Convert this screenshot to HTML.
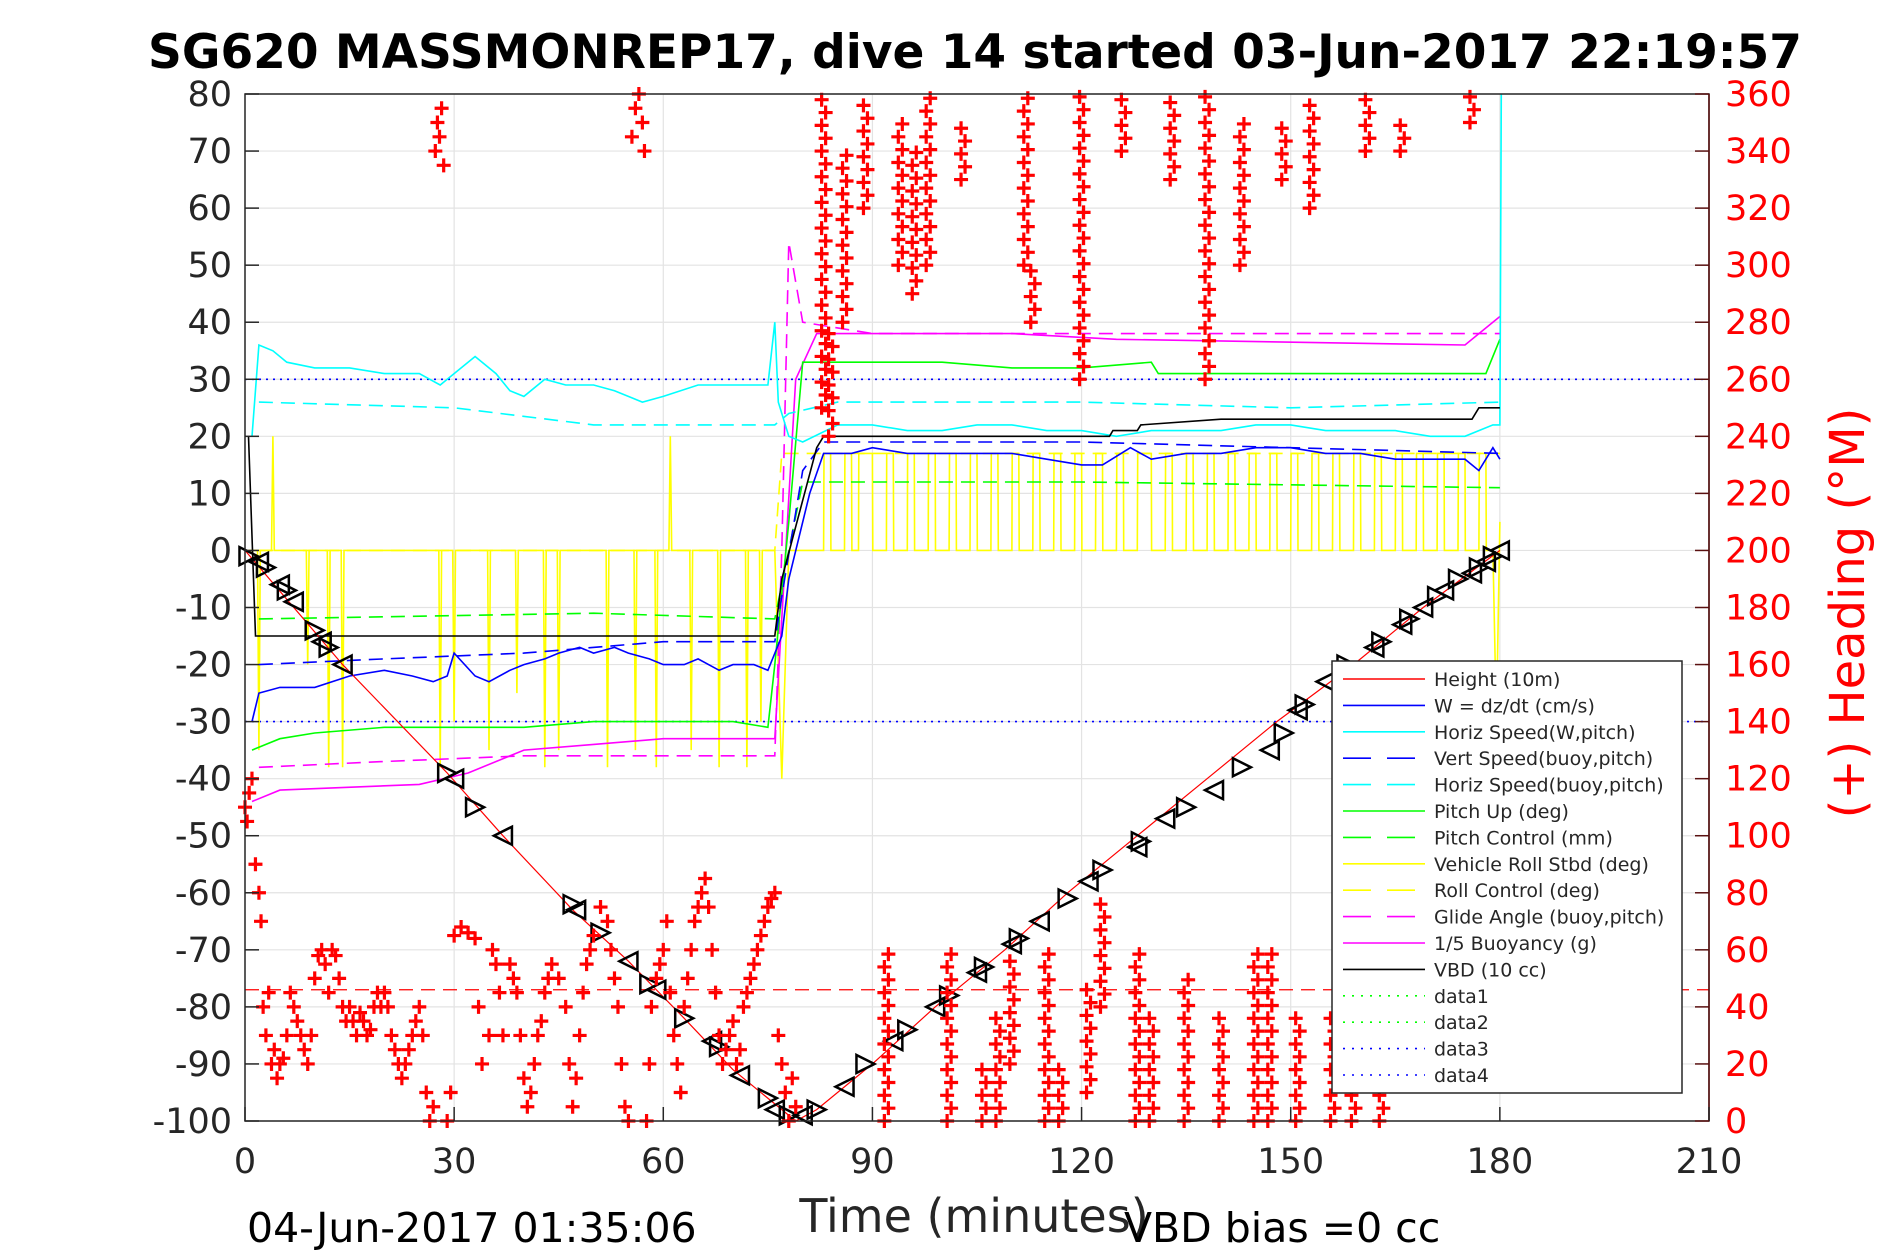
<!DOCTYPE html>
<html><head><meta charset="utf-8"><style>
html,body{margin:0;padding:0;background:#fff;}
svg{display:block;font-family:"DejaVu Sans","Liberation Sans",sans-serif;}
</style></head><body>
<svg id="chart" width="1890" height="1260" viewBox="0 0 1890 1260">
<rect x="0" y="0" width="1890" height="1260" fill="#fff"/>
<g id="grid"></g>
<g id="series"></g>
<g id="axes"></g>
<g id="legend"></g>
</svg>
<script>
// ---- data ----
const xTicks=[0,30,60,90,120,150,180,210];
const yTicks=[80,70,60,50,40,30,20,10,0,-10,-20,-30,-40,-50,-60,-70,-80,-90,-100];
const hTicks=[360,340,320,300,280,260,240,220,200,180,160,140,120,100,80,60,40,20,0];

const heightT=[0,14,29,37,47,55,63,70,76,79,82,90,99,109,118,128,138,148,159,169,180];
const heightV=[0,-20,-39,-50,-63,-72,-82,-91,-97,-100,-98,-90,-80,-70,-60,-50,-40,-30,-20,-10,0];

const markT=[0.5,2,3,5,6,7,10,11,12,14,29,30,33,37,47,47.5,51,55,58,59,63,67,68,71,75,76,78,80,82,86,89,93,95,99,101,105,106,110,111,114,118,121,123,128,128.5,132,135,139,143,147,149,151,152,155,158,162,163,166,167,169,171,172,174,176,177,178,179,180];
const markV=[-1,-2,-3,-6,-7,-9,-14,-16,-17,-20,-39,-40,-45,-50,-62,-63,-67,-72,-76,-77,-82,-86,-87,-92,-96,-98,-99,-99,-98,-94,-90,-86,-84,-80,-78,-74,-73,-69,-68,-65,-61,-58,-56,-52,-51,-47,-45,-42,-38,-35,-32,-28,-27,-23,-20,-17,-16,-13,-12,-10,-8,-7,-5,-4,-3,-2,-1,0];

const vbdT=[0.5,1.5,76,77,82,83,121,124,124.5,128,128.5,140,176,177,180];
const vbdV=[20,-15,-15,-5,18,20,20,20,21,21,22,23,23,25,25];

const wT=[1,2,5,10,15,20,24,27,29,30,33,35,38,40,43,45,48,50,53,55,58,60,63,65,68,70,73,75,77,78,81,83,87,90,95,100,105,110,115,120,123,127,130,135,140,145,150,155,160,165,170,175,177,179,180];
const wV=[-30,-25,-24,-24,-22,-21,-22,-23,-22,-18,-22,-23,-21,-20,-19,-18,-17,-18,-17,-18,-19,-20,-20,-19,-21,-20,-20,-21,-15,-5,10,17,17,18,17,17,17,17,16,15,15,18,16,17,17,18,18,17,17,16,16,16,14,18,16];

const vsT=[2,20,40,60,76,77,80,83,100,120,150,180];
const vsV=[-20,-19,-18,-16,-16,-8,14,19,19,19,18,17];

const hsT=[1,2,4,6,10,15,20,25,28,30,33,36,38,40,43,46,50,53,57,60,65,70,75,76,76.5,78,80,85,90,95,100,105,110,115,120,125,130,135,140,145,150,155,160,165,170,175,179,180,180.2];
const hsV=[20,36,35,33,32,32,31,31,29,31,34,31,28,27,30,29,29,28,26,27,29,29,29,40,26,20,19,22,22,21,21,22,22,21,21,20,21,21,21,22,22,21,21,21,20,20,22,22,80];

const hsbT=[2,30,50,76,78,85,120,150,180];
const hsbV=[26,25,22,22,24,26,26,25,26];

const pitchT=[1,3,5,10,20,30,40,50,60,70,75,76,78,80,85,100,110,120,130,131,140,150,160,170,178,180];
const pitchV=[-35,-34,-33,-32,-31,-31,-31,-30,-30,-30,-31,-20,5,33,33,33,32,32,33,31,31,31,31,31,31,37];

const pcT=[2,50,76,78,80,120,180];
const pcV=[-12,-11,-12,0,12,12,11];

const rollSpikeT=[2,4,9,12,14,28,30,35,39,43,45,52,56,59,61,64,68,72,74];
const rollSpikeV=[-35,20,-20,-38,-38,-38,-30,-35,-25,-38,-35,-38,-35,-38,20,-35,-38,-38,-30];
const rollHighS=[83,86,88,92,95,98,101,104,107,110,113,116,119,122,125,128,132,135,138,141,144,147,150,153,156,159,162,165,168,171,174,177];
const rollHighE=[84,87,90,93,96,99,102,105,108,111,114,117,120,123,126,130,133,136,139,142,145,148,151,154,157,160,163,166,169,172,175,178];

const glideT=[2,20,40,76,77,78,80,90,120,180];
const glideV=[-38,-37,-36,-36,0,54,40,38,38,38];

const buoyT=[1,5,25,32,40,50,60,76,79,82,110,125,175,180];
const buoyV=[-44,-42,-41,-39,-35,-34,-33,-33,30,38,38,37,36,41];

const headT=[0,0.3,0.6,1,1.5,2,2.3,2.6,3,3.4,3.8,4.2,4.6,5,5.5,6,6.5,7,7.5,8,8.5,9,9.5,10,10.5,11,11.5,12,12.5,13,13.5,14,14.5,15,15.5,16,16.5,17,17.5,18,18.5,19,19.5,20,20.5,21,21.5,22,22.5,23,23.5,24,24.5,25,25.5,26,26.5,27,27.3,27.6,27.9,28.2,28.5,29,29.5,30,31,32,33,33.5,34,35,35.5,36,36.5,37,38,38.5,39,39.5,40,40.5,41,41.5,42,42.5,43,43.5,44,45,46,46.5,47,47.5,48,48.5,49,49.5,50,51,52,52.5,53,53.5,54,54.5,55,55.5,56,56.5,57,57.3,57.6,58,58.3,59,59.5,60,60.5,61,61.5,62,62.5,63,63.5,64,64.5,65,65.5,66,66.5,67,67.5,68,68.5,69,69.5,70,70.5,71,71.5,72,72.5,73,73.5,74,74.5,75,75.5,76,76.5,77,77.5,78,78.5,79,79.5,80,80.5,81,81.5];
const headV=[110,105,115,120,90,80,70,40,30,45,20,25,15,20,22,30,45,40,35,30,25,20,30,50,58,60,55,45,60,58,50,40,35,40,35,30,38,35,30,32,40,45,40,45,40,30,25,20,15,20,25,30,35,40,30,10,0,5,340,350,345,355,335,0,10,65,68,66,64,40,20,30,60,55,45,30,55,50,45,30,15,5,10,20,30,35,45,50,55,50,40,20,5,15,30,45,55,60,65,75,70,60,50,40,20,5,0,345,355,360,350,340,0,20,40,50,55,60,70,45,30,20,10,40,50,60,70,75,80,85,75,60,45,30,20,25,30,35,20,25,40,45,50,55,60,65,70,75,78,80,30,20,10,0,15,5];

const colT=[83,84,86,89,92,94,96,98,101,103,106,108,110,112,113,115,117,120,121,123,126,128,130,133,135,138,140,143,145,147,149,151,153,156,159,161,163,166,176];
const colTop=[360,280,340,360,60,350,340,360,60,350,20,40,60,360,300,60,20,360,50,80,360,60,40,360,50,360,40,350,60,60,350,40,360,40,20,360,20,350,360];
const colBot=[250,240,280,320,0,300,290,300,0,330,0,0,20,300,280,0,0,260,10,40,340,0,0,330,0,260,0,300,0,0,330,0,320,0,0,340,0,340,350];

// ---- scales ----
const L=245,R=1709,T=94,B=1121;
const xs=t=>L+t*(R-L)/210;
const ys=v=>T+(80-v)*(B-T)/180;
const hs=h=>B-h*(B-T)/360;
const NS="http://www.w3.org/2000/svg";
function mk(tag,attrs,parent){const e=document.createElementNS(NS,tag);for(const k in attrs)e.setAttribute(k,attrs[k]);parent.appendChild(e);return e;}
const grid=document.getElementById('grid'),ser=document.getElementById('series'),axes=document.getElementById('axes'),leg=document.getElementById('legend');

xTicks.forEach(t=>{const l=mk('line',{x1:xs(t),x2:xs(t),y1:T,y2:B,stroke:'#e3e3e3','stroke-width':1.2},grid);

});
yTicks.forEach(v=>{const l=mk('line',{x1:L,x2:R,y1:ys(v),y2:ys(v),stroke:'#e3e3e3','stroke-width':1.2},grid);

});

function line(T_,V_,color,dash,name,w){
  const pts=T_.map((t,i)=>xs(t).toFixed(1)+','+ys(V_[i]).toFixed(1)).join(' ');
  const p=mk('polyline',{points:pts,fill:'none',stroke:color,'stroke-width':w||1.6},ser);
  if(dash)p.setAttribute('stroke-dasharray',dash);
  
  
}
const r1=mk('line',{x1:xs(0),x2:xs(210),y1:ys(30),y2:ys(30),stroke:'#0000ff','stroke-width':1.6,'stroke-dasharray':'2,5'},ser);


const r2=mk('line',{x1:xs(0),x2:xs(210),y1:ys(-30),y2:ys(-30),stroke:'#0000ff','stroke-width':1.6,'stroke-dasharray':'2,5'},ser);


const r3=mk('line',{x1:xs(0),x2:xs(210),y1:ys(-77),y2:ys(-77),stroke:'#ff0000','stroke-width':1.2,'stroke-dasharray':'14,8'},ser);



const rT=[0.5],rV=[0];
rollSpikeT.forEach((t,i)=>{rT.push(t-0.2,t,t+0.2);rV.push(0,rollSpikeV[i],0);});
rT.push(76,77,78,82);rV.push(0,-40,0,0);
rollHighS.forEach((s,i)=>{rT.push(s,s+0.05,rollHighE[i],rollHighE[i]+0.05);rV.push(0,17,17,0);});
rT.push(179,179.5,180);rV.push(0,-30,5);

line(rT,rV,'#ffff00',null,'vehicle-roll-line',1.6);
line([2,76,77,82,180],[0,0,17,17,17],'#ffff00','14,8','roll-control-line',1.6);
line(glideT,glideV,'#ff00ff','14,8','glide-angle-line');
line(buoyT,buoyV,'#ff00ff',null,'buoyancy-line');
line(pcT,pcV,'#00ff00','14,8','pitch-control-line');
line(pitchT,pitchV,'#00ff00',null,'pitch-up-line');
line(hsbT,hsbV,'#00ffff','14,8','horiz-speed-buoy-line');
line(hsT,hsV,'#00ffff',null,'horiz-speed-line');
line(vsT,vsV,'#0000ff','14,8','vert-speed-line');
line(wT,wV,'#0000ff',null,'w-line');
line(vbdT,vbdV,'#000000',null,'vbd-line');
line(heightT,heightV,'#ff0000',null,'height-line',1.2);

markT.forEach((t,i)=>{const x=xs(t),y=ys(markV[i]),s=9;
 const even=i%2===0;
 const pts=even?`${x-s},${y-s} ${x+s},${y} ${x-s},${y+s}`:`${x+s},${y-s} ${x-s},${y} ${x+s},${y+s}`;
 const p=mk('polygon',{points:pts,fill:'none',stroke:'#000','stroke-width':2.5},ser);
 
 });

function cross(x,y){const p=mk('path',{d:`M${x-7},${y}h14M${x},${y-7}v14`,stroke:'#ff0000','stroke-width':3.2},ser);
 
 }
headT.forEach((t,i)=>cross(xs(t),hs(headV[i])));
colT.forEach((t,i)=>{const a=Math.min(colTop[i],colBot[i]),b=Math.max(colTop[i],colBot[i]);
 let k=0;for(let h=a;h<=b;h+=4.5,k++)cross(xs(t)+(k%2?2:-2),hs(h));});

const box=mk('rect',{x:L,y:T,width:R-L,height:B-T,fill:'none',stroke:'#262626','stroke-width':1.5},axes);


const ra=mk('line',{x1:R,x2:R,y1:T,y2:B,stroke:'#5a1010','stroke-width':1.5},axes);


function txt(s,x,y,attrs,name){const e=mk('text',Object.assign({x:x,y:y},attrs),axes);e.textContent=s;
 
 return e;}
xTicks.forEach(t=>{mk('line',{x1:xs(t),x2:xs(t),y1:B,y2:B-14,stroke:'#262626','stroke-width':1.5},axes);
 txt(String(t),xs(t),B+52,{'font-size':35,'text-anchor':'middle',fill:'#262626'},'x-tick-label');});
yTicks.forEach(v=>{mk('line',{x1:L,x2:L+14,y1:ys(v),y2:ys(v),stroke:'#262626','stroke-width':1.5},axes);
 txt(String(v),232,ys(v)+12,{'font-size':35,'text-anchor':'end',fill:'#262626'},'y-tick-label');});
hTicks.forEach(h=>{mk('line',{x1:R,x2:R-14,y1:hs(h),y2:hs(h),stroke:'#5a1010','stroke-width':1.5},axes);
 txt(String(h),1725,hs(h)+12,{'font-size':35,fill:'#ff0000'},'heading-tick-label');});
txt('SG620 MASSMONREP17, dive 14 started 03-Jun-2017 22:19:57',975,68,{'font-size':47,'font-weight':'bold','text-anchor':'middle',fill:'#000'},'chart-title');
txt('Time (minutes)',974,1232,{'font-size':46,'text-anchor':'middle',fill:'#262626'},'x-axis-title');
txt('04-Jun-2017 01:35:06',247,1242,{'font-size':41,fill:'#000'},'end-time-label');
txt('VBD bias =0 cc',1124,1242,{'font-size':41,fill:'#000'},'vbd-bias-label');
txt('(+) Heading (°M)',0,0,{'font-size':48,'text-anchor':'middle',fill:'#ff0000',transform:'translate(1864,613) rotate(-90)'},'heading-axis-title');

const lg=mk('rect',{x:1332,y:661,width:350,height:432,fill:'#fff',stroke:'#262626','stroke-width':1.5},leg);


const legNames=['Height (10m)','W = dz/dt (cm/s)','Horiz Speed(W,pitch)','Vert Speed(buoy,pitch)','Horiz Speed(buoy,pitch)','Pitch Up (deg)','Pitch Control (mm)','Vehicle Roll Stbd (deg)','Roll Control (deg)','Glide Angle (buoy,pitch)','1/5 Buoyancy (g)','VBD (10 cc)','data1','data2','data3','data4'];
const legColors=['#ff0000','#0000ff','#00ffff','#0000ff','#00ffff','#00ff00','#00ff00','#ffff00','#ffff00','#ff00ff','#ff00ff','#000000','#00ff00','#00ff00','#0000ff','#0000ff'];
const legDash=['','','','28,16','28,16','','28,16','','28,16','28,16','','','2,7','2,7','2,7','2,7'];
legNames.forEach((n,i)=>{const y=679+i*26.4;
 const l=mk('line',{x1:1343,x2:1425,y1:y,y2:y,stroke:legColors[i],'stroke-width':1.6},leg);
 if(legDash[i])l.setAttribute('stroke-dasharray',legDash[i]);
 
 
 const t=mk('text',{x:1434,y:y+7,'font-size':19,fill:'#262626'},leg);t.textContent=n;
 
 });
</script>
</body></html>
